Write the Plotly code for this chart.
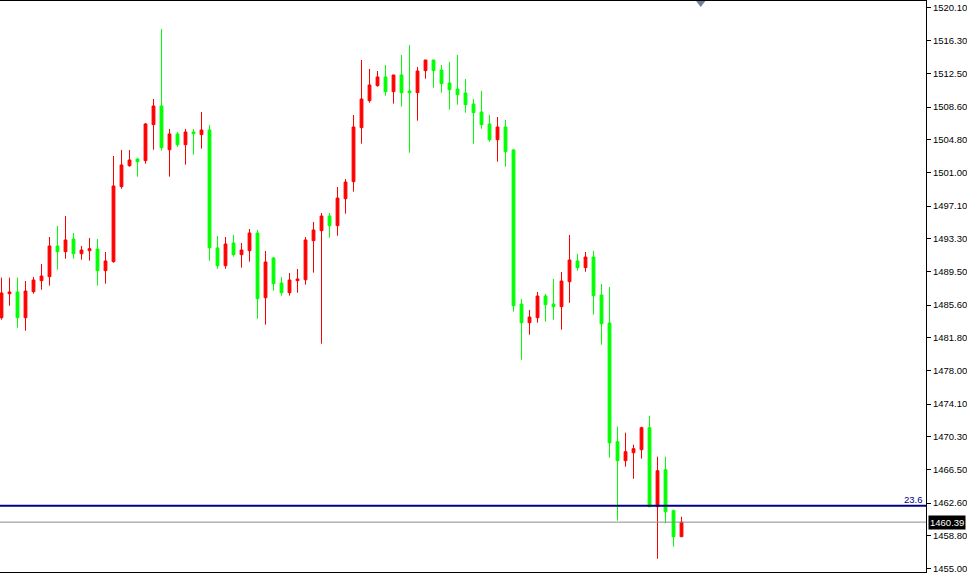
import plotly.graph_objects as go

# ---- data ----
bar_index = list(range(86))
open_ = [1484.13, 1486.92, 1487.12, 1484.13, 1487.15, 1488.43, 1488.89, 1492.46, 1491.80, 1493.27,
         1491.56, 1491.91, 1492.11, 1489.59, 1490.64, 1499.35, 1501.78, 1502.56, 1502.37, 1506.55,
         1508.72, 1503.64, 1505.47, 1504.22, 1505.70, 1505.39, 1505.93, 1492.23, 1490.17, 1492.81,
         1491.45, 1491.91, 1493.97, 1486.45, 1491.06, 1488.16, 1487.03, 1488.43, 1488.54, 1493.07,
         1494.24, 1495.94, 1494.82, 1497.95, 1499.93, 1506.20, 1509.33, 1511.08, 1512.09, 1510.38,
         1512.32, 1510.46, 1510.26, 1512.82, 1514.06, 1512.90, 1511.39, 1510.69, 1510.23, 1508.95,
         1508.02, 1506.63, 1504.80, 1506.28, 1503.61, 1485.72, 1483.55, 1484.13, 1486.65, 1485.72,
         1485.41, 1488.31, 1490.72, 1489.94, 1491.18, 1486.77, 1483.52, 1469.73, 1467.52, 1468.45,
         1468.80, 1471.36, 1462.18, 1466.48, 1461.72, 1458.70]
high = [1488.78, 1488.78, 1488.78, 1488.39, 1488.86, 1490.37, 1493.50, 1494.78, 1495.94, 1493.97,
        1492.46, 1493.39, 1493.27, 1491.76, 1502.91, 1503.61, 1503.61, 1502.68, 1506.74, 1509.53,
        1517.66, 1506.05, 1505.70, 1506.05, 1506.05, 1508.02, 1506.51, 1493.62, 1493.50, 1493.74,
        1492.81, 1494.43, 1494.32, 1491.88, 1491.18, 1488.86, 1489.32, 1489.79, 1493.50, 1495.25,
        1496.29, 1496.29, 1499.31, 1500.24, 1507.67, 1514.06, 1513.02, 1512.78, 1513.48, 1512.32,
        1514.64, 1515.80, 1513.25, 1514.06, 1514.06, 1513.48, 1513.83, 1514.64, 1511.85, 1509.53,
        1510.46, 1507.67, 1507.44, 1507.09, 1503.72, 1486.30, 1485.03, 1487.12, 1486.88, 1488.63,
        1489.44, 1493.74, 1491.53, 1491.76, 1491.88, 1488.05, 1487.70, 1471.47, 1470.78, 1469.38,
        1471.47, 1472.75, 1467.99, 1467.99, 1461.83, 1461.02]
low = [1483.90, 1485.52, 1482.97, 1482.62, 1486.92, 1487.38, 1487.85, 1489.71, 1490.98, 1490.98,
       1490.87, 1490.75, 1487.85, 1488.08, 1490.52, 1499.11, 1501.67, 1500.51, 1502.02, 1503.64,
       1503.53, 1500.51, 1503.99, 1501.90, 1503.06, 1503.76, 1490.75, 1489.82, 1489.82, 1491.22,
       1489.94, 1490.64, 1484.02, 1483.32, 1487.27, 1486.69, 1486.69, 1487.03, 1487.96, 1489.36,
       1481.11, 1493.42, 1493.65, 1496.21, 1498.77, 1504.34, 1509.10, 1510.96, 1509.91, 1508.99,
       1508.64, 1503.29, 1507.01, 1511.89, 1510.84, 1510.26, 1508.29, 1508.87, 1507.94, 1504.34,
       1506.08, 1504.57, 1502.25, 1501.67, 1484.83, 1479.25, 1482.16, 1483.55, 1483.67, 1483.90,
       1482.74, 1485.87, 1489.59, 1489.47, 1484.48, 1481.00, 1467.87, 1460.56, 1466.83, 1465.43,
       1467.76, 1462.18, 1456.14, 1460.25, 1457.54, 1458.70]
close = [1487.00, 1487.12, 1484.13, 1487.23, 1488.51, 1488.97, 1492.46, 1491.80, 1493.16, 1491.56,
         1491.99, 1492.15, 1489.59, 1490.72, 1499.43, 1501.87, 1502.45, 1502.25, 1506.63, 1508.72,
         1503.88, 1505.47, 1504.22, 1505.70, 1505.50, 1505.93, 1492.26, 1490.17, 1492.69, 1491.45,
         1491.99, 1493.97, 1486.34, 1490.60, 1488.08, 1487.03, 1488.51, 1488.63, 1493.16, 1494.32,
         1495.94, 1494.82, 1498.03, 1499.89, 1506.28, 1509.53, 1511.16, 1512.09, 1510.38, 1512.32,
         1510.26, 1510.26, 1512.78, 1514.06, 1512.82, 1511.31, 1510.61, 1510.03, 1508.87, 1507.94,
         1506.55, 1504.80, 1506.28, 1503.41, 1485.52, 1483.55, 1484.21, 1486.65, 1485.64, 1485.41,
         1488.39, 1490.83, 1489.94, 1491.18, 1486.69, 1483.43, 1469.61, 1467.52, 1468.57, 1468.92,
         1471.36, 1462.18, 1466.36, 1461.60, 1458.70, 1460.39]

tick_values = [1520.10, 1516.30, 1512.50, 1508.60, 1504.80, 1501.00, 1497.10, 1493.30, 1489.50,
               1485.60, 1481.80, 1478.00, 1474.10, 1470.30, 1466.50, 1462.60, 1458.80, 1455.00]
tick_labels = ["%.2f" % v for v in tick_values]

fib_level = 1462.28
fib_label = "23.6"
current_price = 1460.39
shift_marker_bar = 87.4

X_RANGE = [-0.1875, 115.56]
Y_RANGE = [1454.60, 1520.91]

FONT = "Liberation Sans"

fig = go.Figure()
fig.add_trace(go.Candlestick(
    x=bar_index, open=open_, high=high, low=low, close=close,
    increasing=dict(line=dict(color="#ff0000", width=1), fillcolor="#ff0000"),
    decreasing=dict(line=dict(color="#00ff00", width=1), fillcolor="#00ff00"),
    whiskerwidth=0, showlegend=False, hoverinfo="skip",
))

# shift marker triangle at top
fig.add_trace(go.Scatter(
    x=[shift_marker_bar], y=[1520.68], mode="markers",
    marker=dict(symbol="triangle-down", size=8, color="#6e8296", line=dict(width=0)),
    cliponaxis=False, showlegend=False, hoverinfo="skip",
))

# fibonacci 23.6 line and current price line
fig.add_shape(type="line", xref="paper", x0=0, x1=1, yref="y", y0=fib_level, y1=fib_level,
              line=dict(color="#000080", width=2), layer="above")
fig.add_shape(type="line", xref="paper", x0=0, x1=1, yref="y", y0=current_price, y1=current_price,
              line=dict(color="#868d95", width=1), layer="above")

fig.add_annotation(x=1, xref="paper", xanchor="right", y=fib_level, yref="y", yanchor="bottom",
                   text=fib_label, showarrow=False, font=dict(family=FONT, size=9.5, color="#000080"),
                   xshift=-1, yshift=-1)
fig.add_annotation(x=1, xref="paper", xanchor="left", y=current_price, yref="y", yanchor="middle",
                   text="%.2f" % current_price, showarrow=False, bgcolor="#000000",
                   font=dict(family=FONT, size=9.5, color="#ffffff"), borderpad=1, xshift=2)

fig.update_layout(
    width=967, height=573,
    margin=dict(l=0, r=41, t=1, b=1),
    paper_bgcolor="#ffffff", plot_bgcolor="#ffffff",
    boxgap=0.5,
    xaxis=dict(range=X_RANGE, showgrid=False, zeroline=False, showticklabels=False, ticks="",
               showline=True, mirror=True, linecolor="#000000", linewidth=1,
               rangeslider=dict(visible=False), fixedrange=True),
    yaxis=dict(range=Y_RANGE, side="right", showgrid=False, zeroline=False,
               tickmode="array", tickvals=tick_values, ticktext=tick_labels,
               ticks="outside", ticklen=4, tickcolor="#000000", tickwidth=1,
               ticklabeloverflow="allow",
               tickfont=dict(family=FONT, size=9.5, color="#000000"),
               showline=True, linecolor="#000000", linewidth=1, mirror=False, fixedrange=True),
    showlegend=False,
)

fig.write_html("out.html", config={"displayModeBar": False},
               post_script="document.body.style.margin='0';document.body.style.overflow='hidden';")
